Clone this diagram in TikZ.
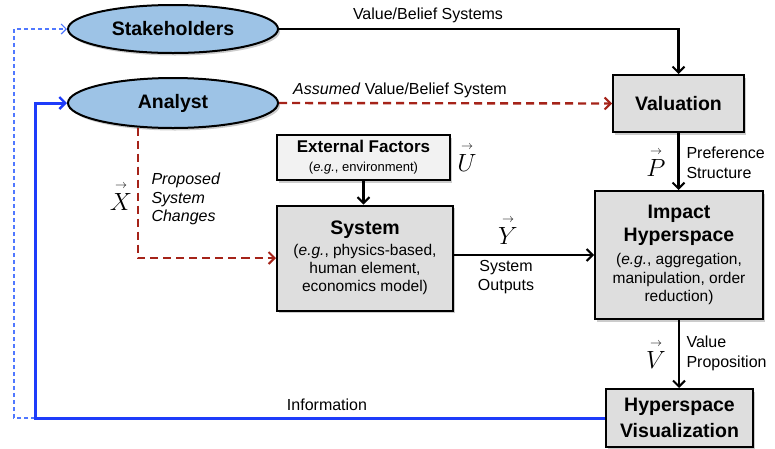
\documentclass[tikz,border=0pt]{standalone}
\usepackage{fontspec}
\usepackage{amsmath}
\setmainfont{Liberation Sans}
\usetikzlibrary{arrows.meta,shadows,shapes.geometric}
\definecolor{ellblue}{RGB}{157,195,230}
\definecolor{boxgrey}{RGB}{222,222,222}
\definecolor{boxlight}{RGB}{242,242,242}
\definecolor{darkred}{RGB}{165,35,25}
\definecolor{infoblue}{RGB}{30,60,250}
\definecolor{lightblue}{RGB}{80,120,255}
\newcommand\myvec[1]{$\overset{\scriptscriptstyle\rightarrow}{#1}$}
\begin{document}
\begin{tikzpicture}[x=1pt,y=-1pt,
  shade/.style={drop shadow={opacity=0.4,shadow xshift=2pt,shadow yshift=-2.5pt}},
  ell/.style={ellipse,draw,line width=2pt,fill=ellblue,inner sep=0pt,shade,
    font=\fontsize{19.5}{22}\selectfont\bfseries},
  box/.style={draw,line width=2pt,fill=boxgrey,align=center,inner sep=0pt,shade},
  bt/.style={font=\fontsize{19.5}{23}\selectfont\bfseries},
  lbl/.style={font=\fontsize{16}{20}\selectfont},
  vecl/.style={font=\fontsize{25}{25}\selectfont},
  arr/.style={line width=2.1pt,-{Straight Barb[length=6pt,width=12pt,line width=2pt]}},
  reddash/.style={darkred,line width=2.4pt,dash pattern=on 8pt off 5pt,-{Straight Barb[length=6pt,width=12pt,line width=2pt]}},
  info/.style={infoblue,line width=3pt,-{Straight Barb[length=6pt,width=12pt,line width=2.4pt]}},
  infodash/.style={lightblue,line width=1.2pt,dash pattern=on 4pt off 3pt,-{Straight Barb[length=5pt,width=10pt,line width=1.2pt]}}
]
\useasboundingbox (0,0) rectangle (775,448);

% nodes
\node[ell,minimum width=210pt,minimum height=48pt] (stake) at (173,29) {Stakeholders};
\node[ell,minimum width=210pt,minimum height=50pt] (analyst) at (173,103) {Analyst};
\node[box,minimum width=131pt,minimum height=57pt,bt] (val) at (678.5,103.5) {Valuation};
\node[box,fill=boxlight,minimum width=173pt,minimum height=45pt,font=\fontsize{13}{19}\selectfont] (ext) at (363.5,157.5)
  {{\fontsize{17}{19}\selectfont\bfseries External Factors}\\(\textit{e.g.}, environment)};
\node[box,minimum width=176pt,minimum height=105pt,font=\fontsize{15.5}{18}\selectfont] (sys) at (365,258)
  {{\fontsize{19.5}{21}\selectfont\bfseries System}\\[3pt](\textit{e.g.}, physics-based,\\human element,\\economics model)};
\node[box,minimum width=168pt,minimum height=128pt,font=\fontsize{15.5}{18.5}\selectfont] (imp) at (679,255)
  {{\fontsize{19.5}{23}\selectfont\bfseries Impact}\\[4.5pt]{\fontsize{19.5}{23}\selectfont\bfseries Hyperspace}\\[4.5pt](\textit{e.g.}, aggregation,\\manipulation, order\\reduction)};
\node[box,minimum width=147pt,minimum height=58pt,font=\fontsize{19.5}{26}\selectfont\bfseries] (hv) at (679.5,418)
  {Hyperspace\\Visualization};

% labels
\node[lbl] (lvb) at (428,15) {Value/Belief Systems};
\node[lbl] (lavb) at (400,90) {\textit{Assumed} Value/Belief System};
\node[lbl,anchor=west,align=left] (lps) at (683,163) {Preference\\Structure};
\node[vecl] (vp) at (656,162) {\myvec{P}};
\node[vecl] (vu) at (467,157) {\myvec{U}};
\node[vecl] (vy) at (508,230) {\myvec{Y}};
\node[lbl,align=center,font=\fontsize{16}{19}\selectfont] (lso) at (506,277) {System\\Outputs};
\node[vecl] (vx) at (121,196) {\myvec{X}};
\node[lbl,anchor=west,align=left,font=\fontsize{16}{18.5}\selectfont\itshape] (lpsc) at (148,199) {Proposed\\System\\Changes};
\node[vecl] (vv) at (656,354) {\myvec{V}};
\node[lbl,anchor=west,align=left] (lvp) at (683,353) {Value\\Proposition};
\node[lbl] (linfo) at (327,405) {Information};

% helper coordinates
\coordinate (iL) at (35,103);
\coordinate (dA) at (35,418);
\coordinate (dB) at (14,418);
\coordinate (dC) at (14,29);

% connectors
\draw[arr] (stake.east) -| (val.north);
\draw[reddash] (analyst.east) -- (val.west);
\draw[arr] (ext.south) -- (ext.south |- sys.north);
\draw[arr] (val.south) -- (val.south |- imp.north);
\draw[arr] (sys.east |- imp.west) -- (imp.west);
\draw[arr] (imp.south) -- (imp.south |- hv.north);
\draw[reddash] (analyst.215) |- (sys.west);
\draw[infodash] (dA) -- (dB) -- (dC) -- (stake.west);
\draw[info] (hv.west) -| (iL) -- (analyst.west);
\end{tikzpicture}
\end{document}
